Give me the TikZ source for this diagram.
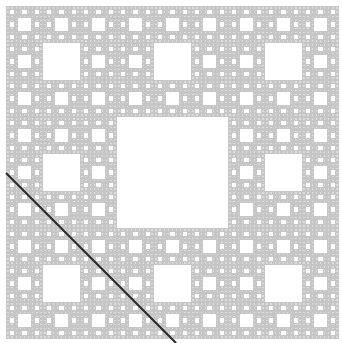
\documentclass[tikz,border=0pt]{standalone}
\definecolor{carpetgray}{RGB}{198,198,198}
\definecolor{finehole}{RGB}{220,220,220}
\definecolor{linegray}{RGB}{45,45,45}
\newcommand\mycarpet[4]{%
  \ifnum#4>0
  \begingroup
  \pgfmathsetmacro\cs{#3/3}%
  \ifnum#4=1
    \fill[finehole] (#1+\cs,#2+\cs) rectangle ++(\cs,\cs);
  \else
    \fill[white] (#1+\cs,#2+\cs) rectangle ++(\cs,\cs);
  \fi
  \foreach \i in {0,1,2}{\foreach \j in {0,1,2}{%
    \ifnum\numexpr\i*3+\j\relax=4 \else
      \pgfmathsetmacro\nx{#1+\i*\cs}%
      \pgfmathsetmacro\ny{#2+\j*\cs}%
      \pgfmathtruncatemacro\nl{#4-1}%
      \mycarpet{\nx}{\ny}{\cs}{\nl}%
    \fi}}%
  \endgroup
  \fi}
\begin{document}
\begin{tikzpicture}[x=1pt,y=-1pt]
\useasboundingbox (0,0) rectangle (341,343);
\fill[white] (0,0) rectangle (341,343);
\fill[carpetgray] (6,6) rectangle (339,339);
\mycarpet{6}{6}{333}{5}
\coordinate (a) at (6,173);
\coordinate (b) at (176,343);
\draw[linegray, line width=1.8pt] (a) -- (b);
\end{tikzpicture}
\end{document}
